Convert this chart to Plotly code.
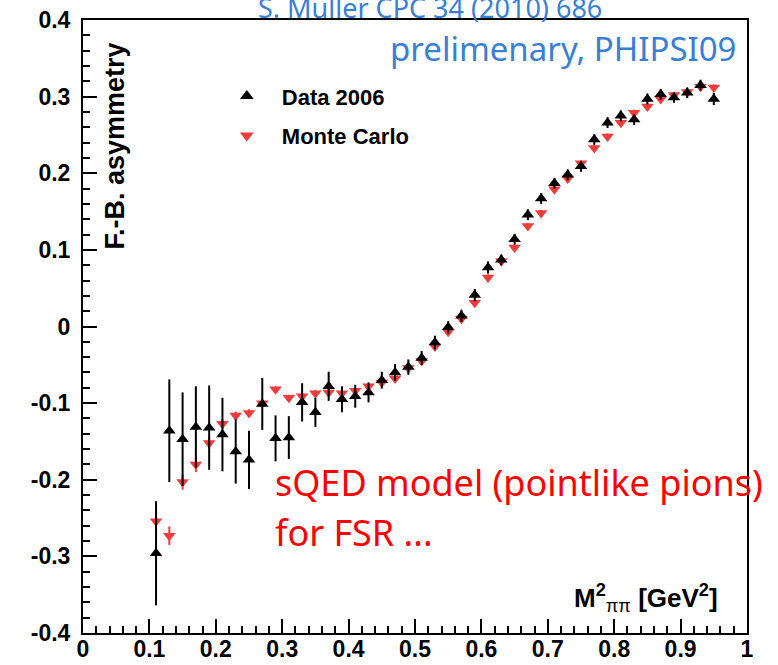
import plotly.graph_objects as go

# Bin centres (M^2_pipi in GeV^2)
x_vals = [0.11, 0.13, 0.15, 0.17, 0.19, 0.21, 0.23, 0.25, 0.27, 0.29,
          0.31, 0.33, 0.35, 0.37, 0.39, 0.41, 0.43, 0.45, 0.47, 0.49,
          0.51, 0.53, 0.55, 0.57, 0.59, 0.61, 0.63, 0.65, 0.67, 0.69,
          0.71, 0.73, 0.75, 0.77, 0.79, 0.81, 0.83, 0.85, 0.87, 0.89,
          0.91, 0.93, 0.95]

data_2006 = [-0.296, -0.136, -0.147, -0.131, -0.132, -0.141, -0.163, -0.174, -0.101, -0.146,
             -0.145, -0.099, -0.112, -0.078, -0.095, -0.091, -0.086, -0.070, -0.060, -0.053,
             -0.041, -0.021, -0.001, 0.014, 0.041, 0.077, 0.087, 0.114, 0.146, 0.167,
             0.187, 0.198, 0.209, 0.244, 0.266, 0.275, 0.270, 0.297, 0.303, 0.299,
             0.305, 0.315, 0.297]

data_err = [0.068, 0.067, 0.061, 0.053, 0.055, 0.048, 0.042, 0.038, 0.034, 0.030,
            0.028, 0.025, 0.019, 0.019, 0.017, 0.015, 0.013, 0.011, 0.011, 0.010,
            0.009, 0.009, 0.008, 0.008, 0.008, 0.008, 0.007, 0.007, 0.007, 0.007,
            0.007, 0.007, 0.007, 0.007, 0.007, 0.007, 0.007, 0.007, 0.007, 0.007,
            0.007, 0.007, 0.008]

monte_carlo = [-0.254, -0.273, -0.203, -0.180, -0.152, -0.127, -0.116, -0.113, -0.100, -0.082,
               -0.093, -0.091, -0.087, -0.086, -0.087, -0.084, -0.078, -0.073, -0.068, -0.054,
               -0.045, -0.026, -0.007, 0.010, 0.031, 0.064, 0.085, 0.103, 0.131, 0.148,
               0.179, 0.193, 0.213, 0.233, 0.248, 0.266, 0.279, 0.287, 0.297, 0.302,
               0.306, 0.313, 0.312]

mc_err = [0.012, 0.012, 0.010, 0.010, 0.008, 0.006, 0.005, 0.005, 0.005, 0.004,
          0.004, 0.004, 0.004, 0.004, 0.004, 0.004, 0.004, 0.004, 0.004, 0.004,
          0.004, 0.004, 0.004, 0.004, 0.004, 0.004, 0.004, 0.004, 0.004, 0.004,
          0.004, 0.004, 0.004, 0.004, 0.004, 0.004, 0.004, 0.004, 0.004, 0.004,
          0.004, 0.004, 0.004]

x_tickvals = [0, 0.1, 0.2, 0.3, 0.4, 0.5, 0.6, 0.7, 0.8, 0.9, 1.0]
x_ticktext = ["0", "0.1", "0.2", "0.3", "0.4", "0.5", "0.6", "0.7", "0.8", "0.9", "1"]
y_tickvals = [-0.4, -0.3, -0.2, -0.1, 0, 0.1, 0.2, 0.3, 0.4]
y_ticktext = ["-0.4", "-0.3", "-0.2", "-0.1", "0", "0.1", "0.2", "0.3", "0.4"]

RED = "#ee3b3b"
BLUE = "#3a7fd4"
FONT = "Liberation Sans, Arial, sans-serif"

fig = go.Figure()

fig.add_trace(go.Scatter(
    x=x_vals, y=monte_carlo, mode="markers", name="<b>Monte Carlo</b>",
    legendgroup="mc", legendrank=2,
    marker=dict(symbol="triangle-down", size=11, color=RED),
    error_y=dict(type="data", array=mc_err, color=RED, thickness=2, width=0),
))
fig.add_trace(go.Scatter(
    x=x_vals, y=data_2006, mode="markers", name="<b>Data 2006</b>",
    legendgroup="data", legendrank=1,
    marker=dict(symbol="triangle-up", size=11, color="black"),
    error_y=dict(type="data", array=data_err, color="black", thickness=2, width=0),
))

axis_common = dict(
    showgrid=False, zeroline=False, showline=True, linecolor="black", linewidth=2,
    mirror=True, ticks="inside", ticklen=14, tickwidth=2, tickcolor="black",
    automargin=False,
    tickfont=dict(family=FONT, size=23, color="black", weight="bold"),
)

fig.update_xaxes(range=[0, 1], tickvals=x_tickvals, ticktext=x_ticktext, ticklabelstandoff=-6,
                 minor=dict(dtick=0.02, tick0=0, ticks="inside", ticklen=7, tickwidth=2, tickcolor="black"),
                 **axis_common)
fig.update_yaxes(range=[-0.4, 0.4], tickvals=y_tickvals, ticktext=y_ticktext, ticklabelstandoff=6,
                 minor=dict(dtick=0.02, tick0=0, ticks="inside", ticklen=7, tickwidth=2, tickcolor="black"),
                 **axis_common)

fig.update_layout(
    width=778, height=665,
    margin=dict(l=83, r=31, t=20, b=32, autoexpand=False),
    paper_bgcolor="white", plot_bgcolor="white",
    showlegend=True,
    legend=dict(x=0.194, y=0.91, xanchor="left", yanchor="top",
                font=dict(family=FONT, size=22, color="black"),
                bgcolor="rgba(0,0,0,0)", tracegroupgap=8,
                itemsizing="constant", itemwidth=60),
    annotations=[
        dict(text="<b>F.-B. asymmetry</b>", textangle=-90, xref="paper", yref="paper",
             x=0.048, y=0.967, xanchor="center", yanchor="top", showarrow=False,
             font=dict(family=FONT, size=27, color="black")),
        dict(text="<b>M<sup>2</sup><sub><span style='font-weight:normal'>ππ</span></sub> [GeV<sup>2</sup>]</b>",
             xref="paper", yref="paper", x=0.959, y=0.025, xanchor="right", yanchor="bottom",
             showarrow=False, font=dict(family=FONT, size=26, color="black")),
        dict(text="S. Muller CPC 34 (2010) 686", xref="paper", yref="paper",
             x=(430 - 83) / 664, y=0.987, xanchor="center", yanchor="bottom", showarrow=False,
             font=dict(family="Noto Sans, sans-serif", size=27, color=BLUE)),
        dict(text="prelimenary, PHIPSI09", xref="paper", yref="paper",
             x=0.986, y=0.953, xanchor="right", yanchor="middle", showarrow=False,
             font=dict(family="Noto Sans, sans-serif", size=33, color=BLUE)),
        dict(text="sQED model (pointlike pions)", xref="paper", yref="paper",
             x=(273 - 83) / 664, y=(633 - 482) / 613, xanchor="left", yanchor="middle", showarrow=False,
             font=dict(family="Noto Sans, sans-serif", size=36, color="red")),
        dict(text="for FSR ...", xref="paper", yref="paper",
             x=(273 - 83) / 664, y=(633 - 532) / 613, xanchor="left", yanchor="middle", showarrow=False,
             font=dict(family="Noto Sans, sans-serif", size=36, color="red")),
    ],
)

fig.write_html("out.html", config={"displayModeBar": False},
               post_script="document.body.style.margin='0';")
